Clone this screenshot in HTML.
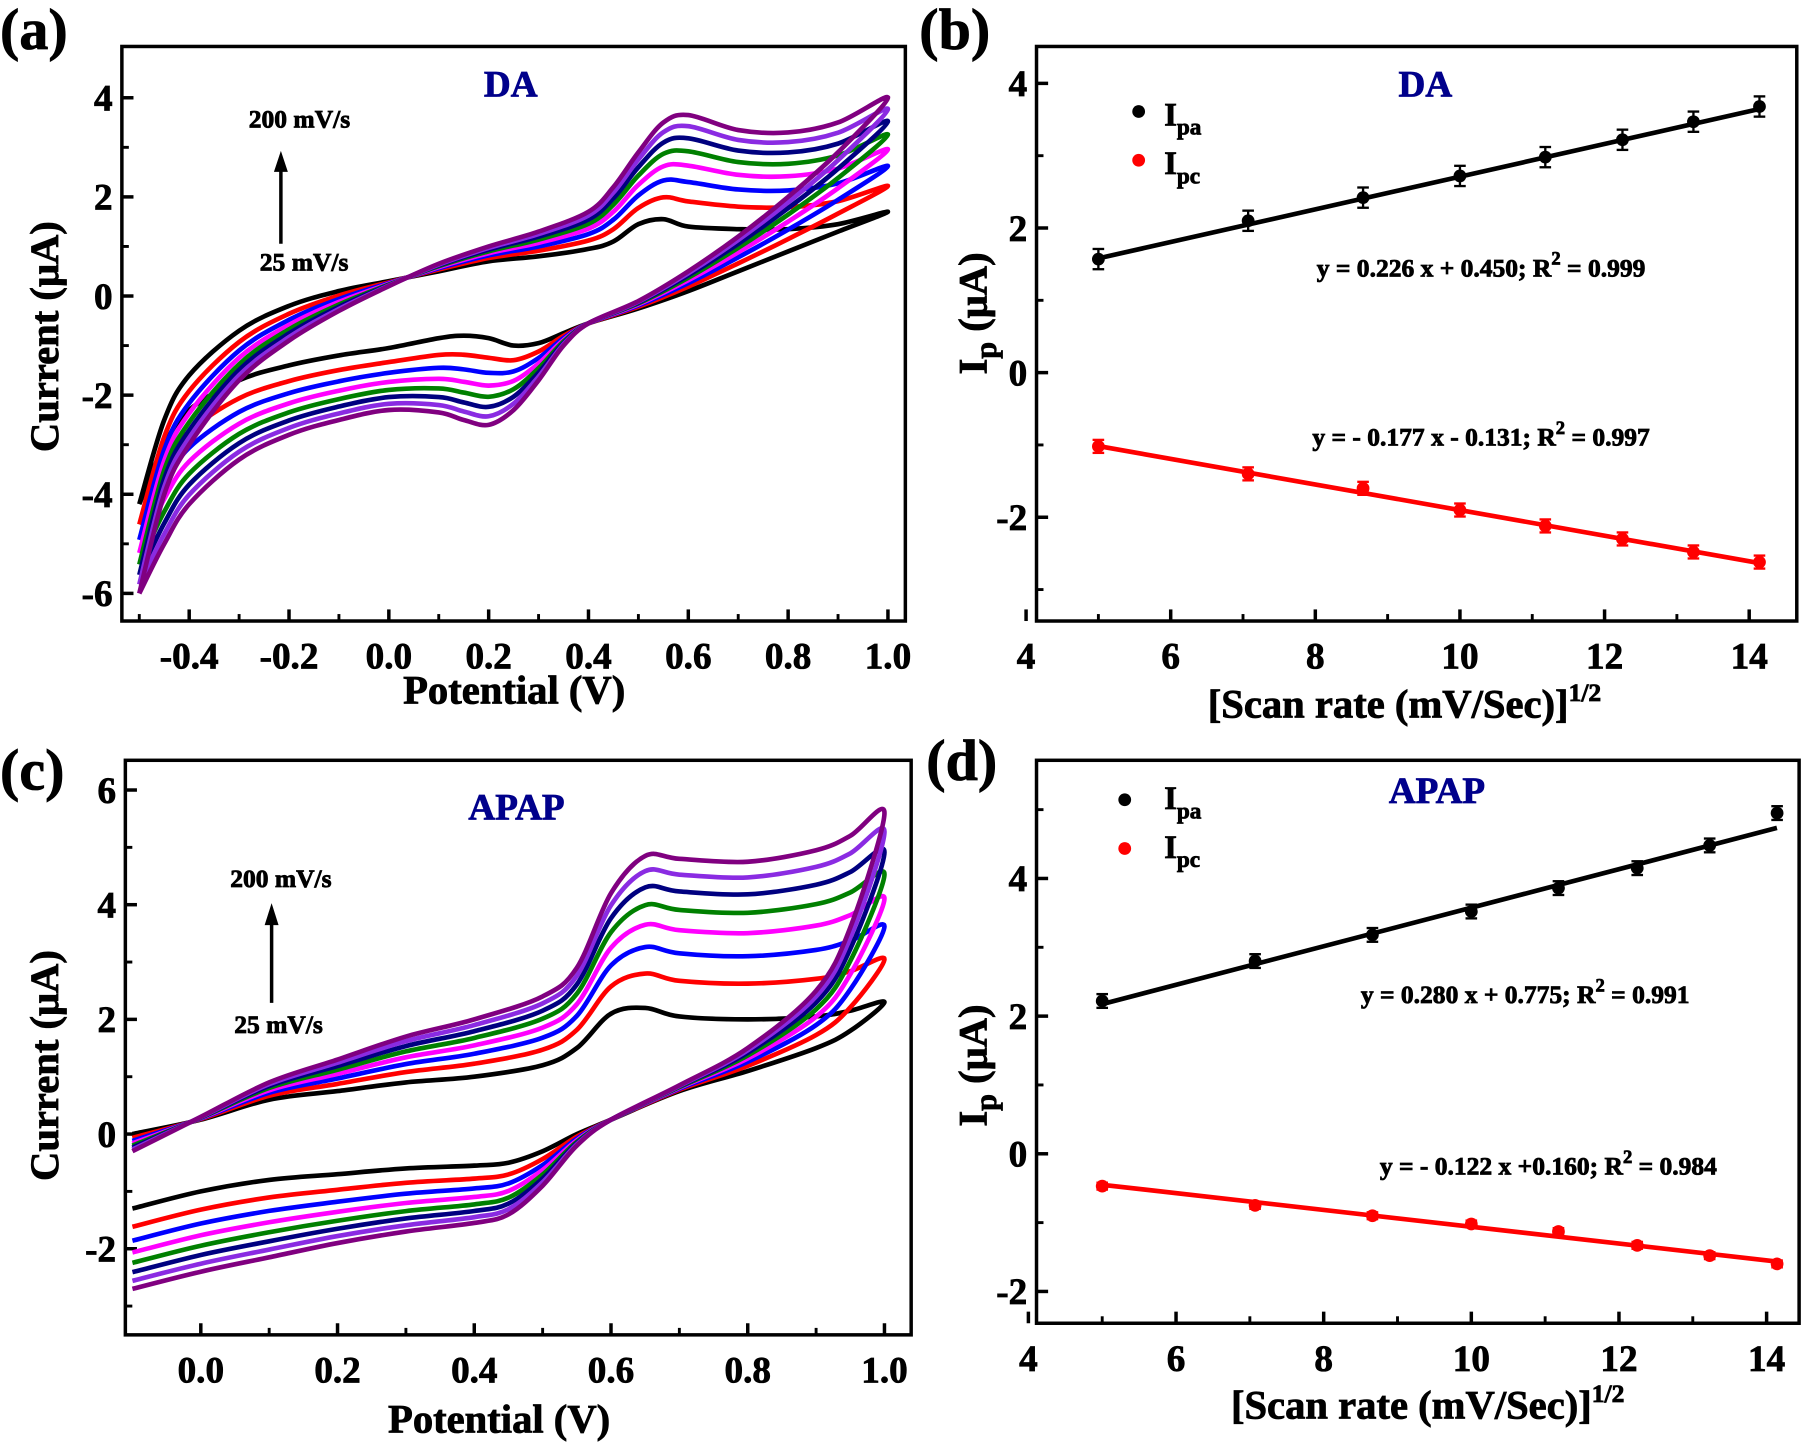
<!DOCTYPE html>
<html><head><meta charset="utf-8"><style>
html,body{margin:0;padding:0;background:#fff;}
svg{display:block;}
text{font-family:"Liberation Serif",serif;font-weight:bold;}
</style></head><body>
<svg id="s" width="1820" height="1444" viewBox="0 0 1568 1244" xmlns="http://www.w3.org/2000/svg"></svg>
<script>
const S=document.getElementById('s');let h='';
const cols=['#000000','#ff0000','#0000ff','#ff00ff','#008000','#000080','#8a2be2','#800080'];
const sr=[25,50,75,100,125,150,175,200].map(Math.sqrt);
function T(x,y,t,sz,anchor,fill,extra){fill=fill||'#000';h+=`<text x="${x}" y="${y}" font-size="${sz}" text-anchor="${anchor||'middle'}" fill="${fill}" stroke="${fill}" stroke-width="0.7" ${extra||''}>${t}</text>`;}
function spline(pts){let d=`M${pts[0][0].toFixed(1)},${pts[0][1].toFixed(1)}`;for(let i=0;i<pts.length-1;i++){const p0=pts[Math.max(0,i-1)],p1=pts[i],p2=pts[i+1],p3=pts[Math.min(pts.length-1,i+2)];const c1=[p1[0]+(p2[0]-p0[0])/6,p1[1]+(p2[1]-p0[1])/6],c2=[p2[0]-(p3[0]-p1[0])/6,p2[1]-(p3[1]-p1[1])/6];d+=`C${c1[0].toFixed(1)},${c1[1].toFixed(1)} ${c2[0].toFixed(1)},${c2[1].toFixed(1)} ${p2[0].toFixed(1)},${p2[1].toFixed(1)}`;}return d;}
function frame(x0,y0,x1,y1,xt,yt,xm,ym){
 h+=`<rect x="${x0}" y="${y0}" width="${x1-x0}" height="${y1-y0}" fill="none" stroke="#000" stroke-width="3"/>`;
 xt.forEach(([v,px])=>{h+=`<line x1="${px}" y1="${y1}" x2="${px}" y2="${y1-10}" stroke="#000" stroke-width="3"/>`;T(px,y1+41,v,32);});
 xm.forEach(px=>{h+=`<line x1="${px}" y1="${y1}" x2="${px}" y2="${y1-6}" stroke="#000" stroke-width="2.5"/>`;});
 yt.forEach(([v,py])=>{h+=`<line x1="${x0}" y1="${py}" x2="${x0+10}" y2="${py}" stroke="#000" stroke-width="3"/>`;T(x0-8,py+11,v,32,'end');});
 ym.forEach(py=>{h+=`<line x1="${x0}" y1="${py}" x2="${x0+6}" y2="${py}" stroke="#000" stroke-width="2.5"/>`;});
}
function cv(X,Y,up,lo,ub,upp,lb,lp){
 for(let k=0;k<8;k++){const t=(sr[k]-5)/(sr[7]-5);
  const pts=[];up.forEach((v,i)=>pts.push([X(v),Y(ub[i]+(upp[i]-ub[i])*t)]));
  lo.forEach((v,i)=>{if(i>0)pts.push([X(v),Y(lb[i]+(lp[i]-lb[i])*t)]);});
  h+=`<path d="${spline(pts)}" fill="none" stroke="${cols[k]}" stroke-width="4" stroke-linejoin="round"/>`;}
}
function pts(X,Y,s,v,cl,e){const x=X(s),y=Y(v);h+=`<line x1="${x}" y1="${Y(v+e)}" x2="${x}" y2="${Y(v-e)}" stroke="${cl}" stroke-width="2"/><line x1="${x-5}" y1="${Y(v+e)}" x2="${x+5}" y2="${Y(v+e)}" stroke="${cl}" stroke-width="2"/><line x1="${x-5}" y1="${Y(v-e)}" x2="${x+5}" y2="${Y(v-e)}" stroke="${cl}" stroke-width="2"/><circle cx="${x}" cy="${y}" r="5.5" fill="${cl}"/>`;}
// Panel a
{const X=v=>335+430*v,Y=i=>255-42.7*i;
 const xt=[['-0.4',X(-0.4)],['-0.2',X(-0.2)],['0.0',X(0)],['0.2',X(0.2)],['0.4',X(0.4)],['0.6',X(0.6)],['0.8',X(0.8)],['1.0',X(1)]];
 const xm=[-0.5,-0.3,-0.1,0.1,0.3,0.5,0.7,0.9].map(X);
 frame(105,40,780,535,xt,[['4',Y(4)],['2',Y(2)],['0',Y(0)],['-2',Y(-2)],['-4',Y(-4)],['-6',Y(-6)]],xm,[3,1,-1,-3,-5].map(Y));
 cv(X,Y,[-0.5,-0.45,-0.4,-0.3,-0.2,-0.1,0,0.1,0.2,0.3,0.4,0.45,0.5,0.55,0.6,0.7,0.8,0.9,1.0],
 [1.0,0.9,0.8,0.7,0.6,0.5,0.4,0.35,0.3,0.25,0.2,0.15,0.1,0,-0.1,-0.2,-0.3,-0.4,-0.45,-0.5],
 [-4.2,-2.5,-1.6,-0.7,-0.2,0.1,0.3,0.5,0.7,0.8,0.95,1.1,1.45,1.55,1.4,1.35,1.35,1.45,1.7],
 [-6.0,-4.0,-3.0,-1.7,-0.9,-0.3,0.2,0.65,1.0,1.3,1.7,2.2,2.9,3.5,3.65,3.35,3.3,3.5,4.0],
 [1.7,1.3,0.9,0.5,0.1,-0.25,-0.55,-0.75,-0.95,-1.0,-0.85,-0.8,-0.85,-1.05,-1.2,-1.4,-1.7,-2.3,-3.0,-4.2],
 [4.0,2.9,2.0,1.2,0.5,-0.1,-0.55,-1.0,-1.7,-2.3,-2.6,-2.5,-2.35,-2.3,-2.5,-2.8,-3.3,-4.2,-5.0,-6.0]);
 T(440,83,'DA',32,'middle','#00008b');T(258,110,'200 mV/s',22);T(262,233,'25 mV/s',22);
 h+=`<line x1="242" y1="210" x2="242" y2="145" stroke="#000" stroke-width="3"/><polygon points="236,148 248,148 242,130" fill="#000"/>`;
 T(443,606,'Potential (V)',35);T(50,290,'Current (μA)',35,'middle','#000','transform="rotate(-90 50 290)"');
 T(0,42,'(a)',50,'start');}
// Panel b
{const X=v=>884+62.3*(v-4),Y=i=>321-62.3*i;
 frame(893,40,1548,535,[4,6,8,10,12,14].map(v=>[v,X(v)]),[['4',Y(4)],['2',Y(2)],['0',Y(0)],['-2',Y(-2)]],[5,7,9,11,13].map(X),[3,1,-1,-3].map(Y));
 const a=[1.57,2.1,2.42,2.72,2.98,3.22,3.47,3.68],c=[-1.02,-1.4,-1.6,-1.9,-2.12,-2.3,-2.48,-2.62];
 h+=`<line x1="${X(5)}" y1="${Y(0.226*5+0.45)}" x2="${X(14.14)}" y2="${Y(0.226*14.14+0.45)}" stroke="#000" stroke-width="4"/>`;
 h+=`<line x1="${X(5)}" y1="${Y(-0.177*5-0.131)}" x2="${X(14.14)}" y2="${Y(-0.177*14.14-0.131)}" stroke="#f00" stroke-width="4"/>`;
 sr.forEach((s,i)=>{pts(X,Y,s,a[i],'#000',0.14);pts(X,Y,s,c[i],'#f00',0.09);});
 h+=`<circle cx="981" cy="96" r="5.5" fill="#000"/><circle cx="981" cy="138" r="5.5" fill="#f00"/>`;
 T(1003,108,'I<tspan font-size="20" dy="8">pa</tspan>',28,'start');T(1003,150,'I<tspan font-size="20" dy="8">pc</tspan>',28,'start');
 T(1228,83,'DA',32,'middle','#00008b');
 T(1276,238,'y = 0.226 x + 0.450; R<tspan font-size="16" dy="-10">2</tspan><tspan dy="10"> = 0.999</tspan>',22);
 T(1276,384,'y = - 0.177 x - 0.131; R<tspan font-size="16" dy="-10">2</tspan><tspan dy="10"> = 0.997</tspan>',22);
 T(1210,618,'[Scan rate (mV/Sec)]<tspan font-size="22" dy="-14">1/2</tspan>',35);
 T(850,270,'I<tspan font-size="26" dy="8">p</tspan><tspan dy="-8"> (μA)</tspan>',35,'middle','#000','transform="rotate(-90 850 270)"');
 T(792,42,'(b)',50,'start');}
// Panel c
{const X=v=>173+589*v,Y=i=>977-49.4*i;
 frame(108,655,785,1150,[['0.0',X(0)],['0.2',X(0.2)],['0.4',X(0.4)],['0.6',X(0.6)],['0.8',X(0.8)],['1.0',X(1)]],[['6',Y(6)],['4',Y(4)],['2',Y(2)],['0',Y(0)],['-2',Y(-2)]],[0.1,0.3,0.5,0.7,0.9].map(X),[5,3,1,-1,-3].map(Y));
 cv(X,Y,[-0.1,0,0.1,0.2,0.3,0.4,0.5,0.55,0.6,0.65,0.7,0.8,0.9,0.95,1.0],[1.0,0.95,0.9,0.8,0.7,0.6,0.55,0.5,0.45,0.4,0.3,0.2,0.1,0,-0.1],
 [0.0,0.25,0.6,0.75,0.9,1.0,1.2,1.5,2.1,2.2,2.05,2.0,2.05,2.15,2.3],
 [-0.3,0.3,0.9,1.3,1.7,2.0,2.4,2.9,4.2,4.85,4.8,4.75,4.95,5.2,5.6],
 [2.3,1.8,1.5,1.1,0.75,0.25,0.0,-0.3,-0.5,-0.55,-0.6,-0.7,-0.8,-1.0,-1.3],
 [5.6,3.6,2.5,1.5,0.85,0.25,-0.2,-0.9,-1.4,-1.55,-1.7,-1.9,-2.15,-2.4,-2.7]);
 T(445,706,'APAP',32,'middle','#00008b');T(242,764,'200 mV/s',22);T(240,890,'25 mV/s',22);
 h+=`<line x1="234" y1="864" x2="234" y2="795" stroke="#000" stroke-width="3"/><polygon points="228,797 240,797 234,778" fill="#000"/>`;
 T(430,1234,'Potential (V)',35);T(50,918,'Current (μA)',35,'middle','#000','transform="rotate(-90 50 918)"');
 T(0,680,'(c)',50,'start');}
// Panel d
{const X=v=>886+63.6*(v-4),Y=i=>994-59.3*i;
 frame(893,655,1550,1140,[4,6,8,10,12,14].map(v=>[v,X(v)]),[['4',Y(4)],['2',Y(2)],['0',Y(0)],['-2',Y(-2)]],[5,7,9,11,13].map(X),[5,3,1,-1].map(Y));
 const a=[2.22,2.8,3.18,3.52,3.86,4.15,4.48,4.95],c=[-0.47,-0.75,-0.9,-1.02,-1.13,-1.33,-1.48,-1.6];
 h+=`<line x1="${X(5)}" y1="${Y(0.28*5+0.775)}" x2="${X(14.14)}" y2="${Y(0.28*14.14+0.775)}" stroke="#000" stroke-width="4"/>`;
 h+=`<line x1="${X(5)}" y1="${Y(-0.122*5+0.16)}" x2="${X(14.14)}" y2="${Y(-0.122*14.14+0.16)}" stroke="#f00" stroke-width="4"/>`;
 sr.forEach((s,i)=>{pts(X,Y,s,a[i],'#000',0.1);pts(X,Y,s,c[i],'#f00',0.05);});
 h+=`<circle cx="969" cy="689" r="5.5" fill="#000"/><circle cx="969" cy="731" r="5.5" fill="#f00"/>`;
 T(1003,697,'I<tspan font-size="20" dy="8">pa</tspan>',28,'start');T(1003,739,'I<tspan font-size="20" dy="8">pc</tspan>',28,'start');
 T(1238,692,'APAP',32,'middle','#00008b');
 T(1314,864,'y = 0.280 x + 0.775; R<tspan font-size="16" dy="-10">2</tspan><tspan dy="10"> = 0.991</tspan>',22);
 T(1334,1012,'y = - 0.122 x +0.160; R<tspan font-size="16" dy="-10">2</tspan><tspan dy="10"> = 0.984</tspan>',22);
 T(1230,1222,'[Scan rate (mV/Sec)]<tspan font-size="22" dy="-14">1/2</tspan>',35);
 T(850,918,'I<tspan font-size="26" dy="8">p</tspan><tspan dy="-8"> (μA)</tspan>',35,'middle','#000','transform="rotate(-90 850 918)"');
 T(798,672,'(d)',50,'start');}
S.innerHTML=h;
</script>
</body></html>
